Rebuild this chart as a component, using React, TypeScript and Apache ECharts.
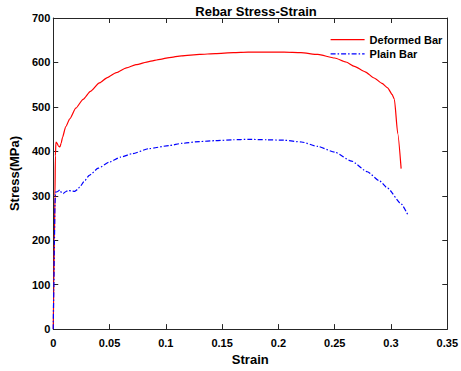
import React, { useEffect, useRef } from "react";
import * as echarts from "echarts";

const deformedStrain = [0, 0.0005, 0.001, 0.0015, 0.0019, 0.0024, 0.0035, 0.0045, 0.0059, 0.007, 0.0083, 0.011, 0.0147, 0.02, 0.0265, 0.033, 0.041, 0.048, 0.056, 0.065, 0.0735, 0.085, 0.095, 0.103, 0.114, 0.13, 0.144, 0.16, 0.173, 0.19, 0.205, 0.22, 0.235, 0.25, 0.26, 0.2675, 0.277, 0.285, 0.292, 0.297, 0.301, 0.303, 0.306, 0.309];
const deformedStress = [0, 100, 200, 300, 390, 421, 418, 412, 410, 418, 432, 455, 473, 497, 517, 535, 554, 566, 577, 588, 595, 602, 607, 611, 615, 618, 620, 622, 623, 623, 623, 622, 618, 610, 601, 591, 579, 565, 553, 543, 528, 517, 440, 361];

const plainStrain = [0, 0.0005, 0.001, 0.0015, 0.002, 0.0035, 0.0059, 0.0075, 0.0088, 0.011, 0.0132, 0.016, 0.019, 0.0215, 0.0235, 0.028, 0.032, 0.04, 0.05, 0.06, 0.0705, 0.085, 0.103, 0.1146, 0.13, 0.144, 0.16, 0.173, 0.19, 0.205, 0.2205, 0.235, 0.25, 0.265, 0.279, 0.29, 0.297, 0.3086, 0.315];
const plainStress = [0, 90, 190, 280, 308, 309, 313, 306, 305, 309, 312, 311, 310, 314, 320, 334, 346, 362, 376, 387, 395, 406, 413, 418, 422, 424, 426, 427, 426, 425, 421, 411, 398, 378, 354, 333, 317, 283, 257];

const xTicks = { min: 0, max: 0.35, interval: 0.05 };
const yTicks = { min: 0, max: 700, interval: 100 };

const FONT = "'Liberation Sans', Arial, sans-serif";

export default function App() {
  const ref = useRef<HTMLDivElement>(null);
  useEffect(() => {
    if (!ref.current) return;
    const chart = echarts.init(ref.current, undefined, { renderer: "svg" });
    const axisCommon = {
      axisLine: { show: true, onZero: false, lineStyle: { color: "#262626", width: 1 } },
      axisTick: { show: true, inside: true, length: 5, lineStyle: { color: "#262626" } },
      splitLine: { show: false },
    };
    chart.setOption({
      animation: false,
      backgroundColor: "#fff",
      textStyle: { fontFamily: FONT },
      title: {
        text: "Rebar Stress-Strain",
        left: 251,
        top: 0,
        textAlign: "center",
        textStyle: { fontSize: 13, fontWeight: "bold", color: "#000", fontFamily: FONT },
      },
      legend: {
        orient: "vertical",
        left: 325,
        top: 29,
        itemWidth: 34,
        itemHeight: 14,
        itemGap: 3,
        itemStyle: { opacity: 0 },
        lineStyle: { width: 1.2 },
        textStyle: { fontSize: 11, fontWeight: "bold", color: "#000", fontFamily: FONT },
        data: ["Deformed Bar", "Plain Bar"],
      },
      grid: { left: 53, right: 11, top: 18, bottom: 39, containLabel: false },
      xAxis: [
        {
          type: "value",
          position: "bottom",
          ...xTicks,
          ...axisCommon,
          name: "Strain",
          nameLocation: "middle",
          nameGap: 22,
          nameTextStyle: { fontSize: 13, fontWeight: "bold", color: "#000", fontFamily: FONT },
          axisLabel: {
            fontSize: 11,
            fontWeight: "bold",
            color: "#000",
            margin: 8,
            fontFamily: FONT,
            formatter: (v: number) => String(parseFloat(v.toFixed(2))),
          },
        },
        {
          type: "value",
          position: "top",
          ...xTicks,
          ...axisCommon,
          axisLabel: { show: false },
        },
      ],
      yAxis: [
        {
          type: "value",
          position: "left",
          ...yTicks,
          ...axisCommon,
          name: "Stress(MPa)",
          nameLocation: "middle",
          nameGap: 30,
          nameTextStyle: { fontSize: 13, fontWeight: "bold", color: "#000", fontFamily: FONT },
          axisLabel: { fontSize: 11, fontWeight: "bold", color: "#000", margin: 3, fontFamily: FONT },
        },
        {
          type: "value",
          position: "right",
          ...yTicks,
          ...axisCommon,
          axisLabel: { show: false },
        },
      ],
      series: [
        {
          name: "Deformed Bar",
          type: "line",
          data: deformedStrain.map((x, i) => [x, deformedStress[i]]),
          showSymbol: false,
          symbol: "none",
          smooth: 0.2,
          smoothMonotone: "x",
          lineStyle: { color: "#ff0000", width: 1.2 },
          itemStyle: { color: "#ff0000" },
        },
        {
          name: "Plain Bar",
          type: "line",
          data: plainStrain.map((x, i) => [x, plainStress[i]]),
          showSymbol: false,
          symbol: "none",
          smooth: 0.2,
          smoothMonotone: "x",
          lineStyle: { color: "#0000ff", width: 1.2, type: [5, 2, 1.5, 2] },
          itemStyle: { color: "#0000ff" },
        },
      ],
    });
    return () => chart.dispose();
  }, []);
  return <div ref={ref} style={{ width: 461, height: 371, position: "absolute", left: 0, top: 0 }} />;
}
